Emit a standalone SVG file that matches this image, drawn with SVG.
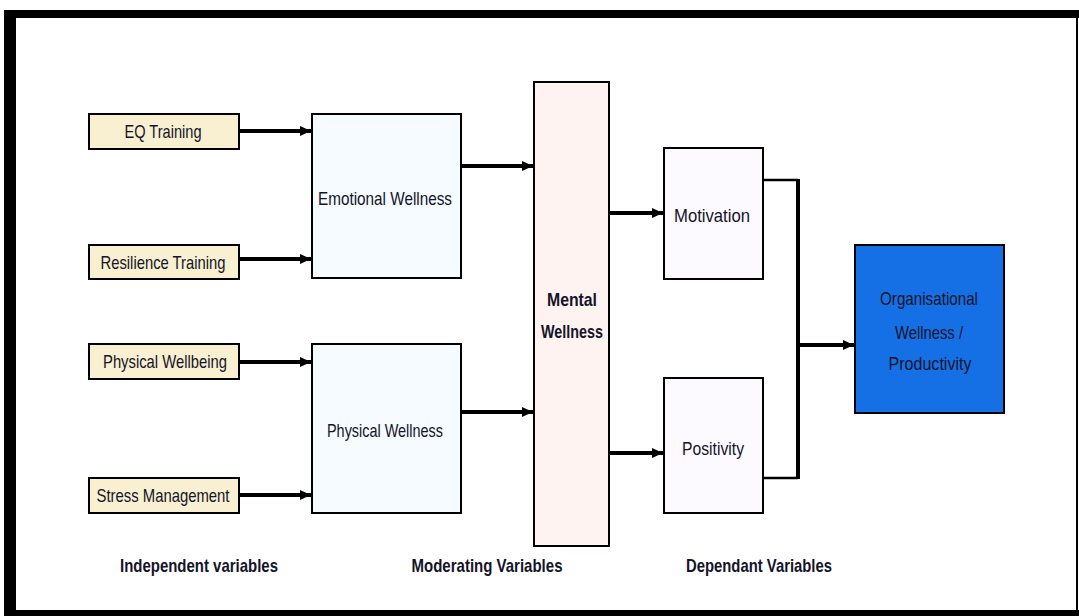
<svg xmlns="http://www.w3.org/2000/svg" width="1079" height="616" viewBox="0 0 1079 616">
<defs>
<marker id="ah" markerUnits="userSpaceOnUse" markerWidth="14" markerHeight="14" refX="11" refY="7" orient="auto">
<path d="M0,2 L11,7 L0,12 Z" fill="#000"/>
</marker>
<style>
.box{stroke:#000;stroke-width:2}
.ind{fill:#F8F0D0}
.mod{fill:#F5FBFF}
.men{fill:#FFF3F1}
.dep{fill:#FDFAFF}
.org{fill:#1570E6}
.t{font-family:"Liberation Sans",Arial,sans-serif;font-size:19px;fill:#14142a;text-anchor:middle}
.b{font-weight:bold}
.c{stroke:#000;stroke-width:4;fill:none}
.cn{stroke:#000;stroke-width:2.5;fill:none}
</style>
</defs>
<rect x="0" y="0" width="1079" height="616" fill="#fff"/>
<g id="frame">
<rect x="8" y="10" width="1071" height="8" fill="#000"/>
<rect x="4" y="10" width="12" height="606" fill="#000"/>
<rect x="4" y="610" width="1075" height="6" fill="#000"/>
<rect x="1076" y="10" width="2" height="606" fill="#000"/>
</g>
<g id="connectors">
<line class="c" x1="239" y1="131" x2="311" y2="131" marker-end="url(#ah)"/>
<line class="c" x1="239" y1="259" x2="311" y2="259" marker-end="url(#ah)"/>
<line class="c" x1="239" y1="362" x2="311" y2="362" marker-end="url(#ah)"/>
<line class="c" x1="239" y1="495" x2="311" y2="495" marker-end="url(#ah)"/>
<line class="c" x1="458" y1="166" x2="533" y2="166" marker-end="url(#ah)"/>
<line class="c" x1="461" y1="412" x2="533" y2="412" marker-end="url(#ah)"/>
<line class="c" x1="609" y1="213" x2="663" y2="213" marker-end="url(#ah)"/>
<line class="c" x1="607" y1="453" x2="663" y2="453" marker-end="url(#ah)"/>
<polyline class="cn" points="763,180 798,180"/>
<polyline class="cn" points="763,478 798,478"/>
<line class="c" x1="798" y1="179" x2="798" y2="479"/>
<line class="c" x1="798" y1="345" x2="854" y2="345" marker-end="url(#ah)"/>
</g>
<g id="eq-training">
<rect class="box ind" x="89" y="114" width="150" height="35"/>
<text class="t" x="163" y="138" textLength="77" lengthAdjust="spacingAndGlyphs">EQ Training</text>
</g>
<g id="resilience-training">
<rect class="box ind" x="89" y="245" width="150" height="34"/>
<text class="t" x="163" y="269" textLength="125" lengthAdjust="spacingAndGlyphs">Resilience Training</text>
</g>
<g id="physical-wellbeing">
<rect class="box ind" x="89" y="344" width="150" height="35"/>
<text class="t" x="165" y="368" textLength="124" lengthAdjust="spacingAndGlyphs">Physical Wellbeing</text>
</g>
<g id="stress-management">
<rect class="box ind" x="89" y="478" width="150" height="35"/>
<text class="t" x="163" y="502" textLength="133" lengthAdjust="spacingAndGlyphs">Stress Management</text>
</g>
<g id="emotional-wellness">
<rect class="box mod" x="312" y="114" width="149" height="164"/>
<text class="t" x="385" y="205" textLength="134" lengthAdjust="spacingAndGlyphs">Emotional Wellness</text>
</g>
<g id="physical-wellness">
<rect class="box mod" x="312" y="344" width="149" height="169"/>
<text class="t" x="385" y="437" textLength="116" lengthAdjust="spacingAndGlyphs">Physical Wellness</text>
</g>
<g id="mental-wellness">
<rect class="box men" x="534" y="82" width="75" height="464"/>
<text class="t b" x="572" y="306" textLength="50" lengthAdjust="spacingAndGlyphs">Mental</text>
<text class="t b" x="572" y="338" textLength="62" lengthAdjust="spacingAndGlyphs">Wellness</text>
</g>
<g id="motivation">
<rect class="box dep" x="664" y="148" width="99" height="131"/>
<text class="t" x="712" y="222" textLength="76" lengthAdjust="spacingAndGlyphs">Motivation</text>
</g>
<g id="positivity">
<rect class="box dep" x="664" y="378" width="99" height="135"/>
<text class="t" x="713" y="455" textLength="62" lengthAdjust="spacingAndGlyphs">Positivity</text>
</g>
<g id="organisational-wellness">
<rect class="box org" x="855" y="245" width="149" height="168"/>
<text class="t" x="929" y="305" textLength="98" lengthAdjust="spacingAndGlyphs">Organisational</text>
<text class="t" x="929" y="339" textLength="68" lengthAdjust="spacingAndGlyphs">Wellness /</text>
<text class="t" x="930" y="370" textLength="83" lengthAdjust="spacingAndGlyphs">Productivity</text>
</g>
<g id="labels">
<text class="t b" x="199" y="572" textLength="158" lengthAdjust="spacingAndGlyphs">Independent variables</text>
<text class="t b" x="487" y="572" textLength="151" lengthAdjust="spacingAndGlyphs">Moderating Variables</text>
<text class="t b" x="759" y="572" textLength="146" lengthAdjust="spacingAndGlyphs">Dependant Variables</text>
</g>
</svg>
